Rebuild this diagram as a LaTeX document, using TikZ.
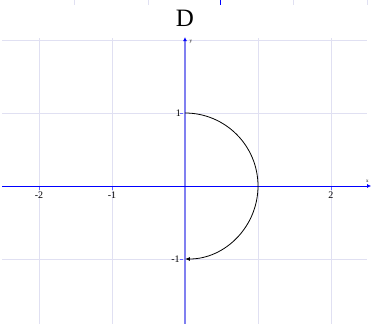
\documentclass[tikz,border=0pt]{standalone}
\usepackage{fontspec}
\setmainfont{Liberation Serif}
\usetikzlibrary{arrows.meta}
\definecolor{gridc}{RGB}{224,224,242}
\definecolor{yaxc}{RGB}{128,128,240}
\tikzset{
  gridline/.style={draw=gridc, line width=0.6pt},
  xaxis/.style={draw=blue, line width=0.9pt, -{Latex[length=4pt,width=4pt]}},
  yaxis/.style={draw=yaxc, line width=1.2pt, -{Latex[length=4pt,width=4pt,fill=blue,color=blue]}},
  ticklab/.style={font=\fontsize{10}{10}\selectfont, inner sep=0pt},
  axlab/.style={font=\fontsize{5}{5}\selectfont, inner sep=0pt},
  curve/.style={draw=black, line width=0.8pt, -{Latex[length=5pt,width=4pt]}},
}
\begin{document}
\begin{tikzpicture}[x=73pt,y=73pt]
\useasboundingbox (-185/73,-138/73) rectangle (188/73,186/73);
% remnants of previous figure at top
\foreach \px in {74,148,293,367}
  \draw[gridline] ({(\px-185)/73},186/73) -- ({(\px-185)/73},181/73);
\draw[draw=blue, line width=0.8pt] ({(220-185)/73},186/73) -- ({(220-185)/73},181/73);
% grid
\foreach \gx in {-2,-1,1,2}
  \draw[gridline] (\gx,-138/73) -- (\gx,2.03);
\foreach \gy in {2,1,-1}
  \draw[gridline] (-2.5,\gy) -- (2.5,\gy);
% axes
\coordinate (xs) at (-2.5,0);
\coordinate (xe) at (2.55,0);
\coordinate (ys) at (0,-138/73);
\coordinate (ye) at (0,2.04);
\draw[yaxis] (ys) -- (ye);
\draw[xaxis] (xs) -- (xe);
\node[axlab] (xl) at (2.50,0.07) {x};
\node[axlab] (yl) at (0.08,1.98) {y};
% ticks
\foreach \t in {-2,-1,2} \draw[blue!60, line width=0.4pt] (\t,-0.02) -- (\t,-0.06);
\draw[blue!60, line width=0.4pt] (-0.03,1) -- (-0.07,1);
\draw[blue!60, line width=0.4pt] (-0.03,-1) -- (-0.07,-1);
% tick labels
\node[ticklab] (lm2) at (-2,-0.13) {-2};
\node[ticklab] (lm1) at (-1,-0.13) {-1};
\node[ticklab] (lp2) at (2,-0.13) {2};
\node[ticklab] (ly1) at (-0.09,1) {1};
\node[ticklab] (lym1) at (-0.13,-1) {-1};
% title
\node[font=\fontsize{25}{25}\selectfont, inner sep=0pt] (title) at (0,2.30) {D};
% curve
\coordinate (top) at (0,1);
\coordinate (bot) at (0,-1);
\draw[curve] (top) arc[start angle=90, end angle=-90, radius=1];
\end{tikzpicture}
\end{document}
